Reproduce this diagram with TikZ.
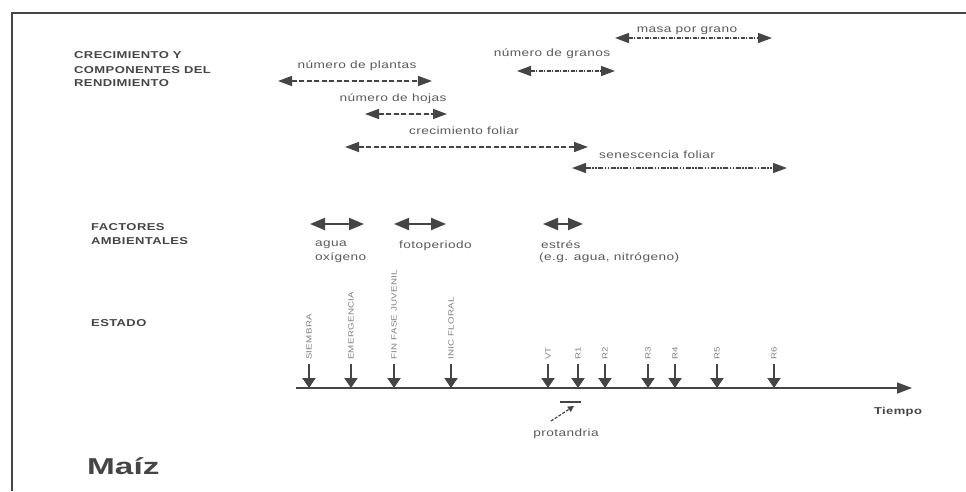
\documentclass[tikz,border=0pt]{standalone}
\usepackage{fontspec}
\setmainfont{Liberation Sans}
\newfontfamily\scanfont[FakeStretch=1.3,LetterSpace=4]{Liberation Sans}
\newfontfamily\maizfont[FakeStretch=1.45]{Liberation Sans}
\usetikzlibrary{arrows.meta}
\definecolor{ink}{HTML}{454545}
\definecolor{softink}{HTML}{5A5A5A}
\definecolor{paleink}{HTML}{808080}

\begin{document}
\begin{tikzpicture}[x=1pt, y=-1pt,
  every node/.style={font=\scanfont\fontsize{10.5}{12}\selectfont, text=softink, inner sep=1pt},
  heading/.style={font=\scanfont\bfseries\fontsize{10}{12}\selectfont, text=ink, anchor=west},
  span/.style={{Triangle[length=14pt,width=10pt]}-{Triangle[length=14pt,width=10pt]}, draw=ink, fill=ink, line width=1.4pt, dash pattern=on 5pt off 2.5pt},
  dotspan/.style={span, dash pattern=on 4pt off 1.5pt on 1pt off 1.5pt},
  factor/.style={{Triangle[length=15pt,width=12pt]}-{Triangle[length=15pt,width=12pt]}, draw=ink, fill=ink, line width=2pt},
  stage/.style={rotate=90, anchor=west, font=\scanfont\fontsize{7.5}{8}\selectfont, text=paleink},
  stagearrow/.style={-{Triangle[length=10pt,width=13pt]}, draw=ink, fill=ink, line width=2pt}]
  \useasboundingbox (0,0) rectangle (966,491);

  % frame of the page
  \coordinate (frameTL) at (12,12.7);
  \draw[ink, line width=1.6pt] (966,12.7) -- (frameTL) -- (12,491);

  % crecimiento y componentes del rendimiento
  \node[heading] (crec) at (73,55) {CRECIMIENTO Y};
  \node[heading] (comp) at (73,70) {COMPONENTES DEL};
  \node[heading] (rend) at (73,83) {RENDIMIENTO};

  \node (masa) at (687,31) {masa por grano};
  \coordinate (masaL) at (615,38); \coordinate (masaR) at (772,38);
  \draw[dotspan] (masaL) -- (masaR);

  \node (granos) at (552,54) {número de granos};
  \coordinate (granosL) at (517,71); \coordinate (granosR) at (615,71);
  \draw[dotspan] (granosL) -- (granosR);

  \node (plantas) at (357,66) {número de plantas};
  \coordinate (plantasL) at (278,81); \coordinate (plantasR) at (432,81);
  \draw[span] (plantasL) -- (plantasR);

  \node (hojas) at (393,99) {número de hojas};
  \coordinate (hojasL) at (365,114); \coordinate (hojasR) at (447,114);
  \draw[span] (hojasL) -- (hojasR);

  \node (crecfol) at (464,131) {crecimiento foliar};
  \coordinate (crecfolL) at (345,147); \coordinate (crecfolR) at (588,147);
  \draw[span] (crecfolL) -- (crecfolR);

  \node (senes) at (657,155) {senescencia foliar};
  \coordinate (senesL) at (572,168); \coordinate (senesR) at (787,168);
  \draw[span, dash pattern=on 5pt off 1.5pt on 1.5pt off 1.5pt on 1.5pt off 1.5pt] (senesL) -- (senesR);

  % factores ambientales
  \node[heading] (fact) at (90,227) {FACTORES};
  \node[heading] (amb) at (90,241) {AMBIENTALES};
  \coordinate (aguaL) at (310,224); \coordinate (aguaR) at (364,224);
  \draw[factor] (aguaL) -- (aguaR);
  \node[anchor=west] (agua) at (314,245) {agua};
  \node[anchor=west] (oxigeno) at (314,258) {oxígeno};
  \coordinate (fotoL) at (394,224); \coordinate (fotoR) at (446,224);
  \draw[factor] (fotoL) -- (fotoR);
  \node[anchor=west] (foto) at (398,246) {fotoperiodo};
  \coordinate (estresL) at (543,224); \coordinate (estresR) at (583,224);
  \draw[factor] (estresL) -- (estresR);
  \node[anchor=west] (estres) at (540,245) {estrés};
  \node[anchor=west] (ejemplo) at (538,258) {(e.g. agua, nitrógeno)};

  % estado y eje de tiempo
  \node[heading] (estado) at (90,323) {ESTADO};
  \coordinate (axA) at (296,388); \coordinate (axB) at (912,388);
  \draw[-{Triangle[length=15pt,width=11pt]}, draw=ink, fill=ink, line width=1.4pt] (axA) -- (axB);
  \node[font=\scanfont\bfseries\fontsize{10}{12}\selectfont, text=ink] (tiempo) at (898,412) {Tiempo};

  \node[stage] (siembra) at (309,361) {SIEMBRA};
  \draw[stagearrow] ([yshift=-3pt]siembra.west) -- (siembra.west |- axA);
  \node[stage] (emerg) at (351,361) {EMERGENCIA};
  \draw[stagearrow] ([yshift=-3pt]emerg.west) -- (emerg.west |- axA);
  \node[stage] (juvenil) at (394,361) {FIN FASE JUVENIL};
  \draw[stagearrow] ([yshift=-3pt]juvenil.west) -- (juvenil.west |- axA);
  \node[stage] (floral) at (451,361) {INIC FLORAL};
  \draw[stagearrow] ([yshift=-3pt]floral.west) -- (floral.west |- axA);
  \node[stage] (vt) at (548,361) {VT};
  \draw[stagearrow] ([yshift=-3pt]vt.west) -- (vt.west |- axA);
  \node[stage] (rone) at (578,361) {R1};
  \draw[stagearrow] ([yshift=-3pt]rone.west) -- (rone.west |- axA);
  \node[stage] (rtwo) at (605,361) {R2};
  \draw[stagearrow] ([yshift=-3pt]rtwo.west) -- (rtwo.west |- axA);
  \node[stage] (rthree) at (648,361) {R3};
  \draw[stagearrow] ([yshift=-3pt]rthree.west) -- (rthree.west |- axA);
  \node[stage] (rfour) at (675,361) {R4};
  \draw[stagearrow] ([yshift=-3pt]rfour.west) -- (rfour.west |- axA);
  \node[stage] (rfive) at (717,361) {R5};
  \draw[stagearrow] ([yshift=-3pt]rfive.west) -- (rfive.west |- axA);
  \node[stage] (rsix) at (774,361) {R6};
  \draw[stagearrow] ([yshift=-3pt]rsix.west) -- (rsix.west |- axA);

  % protandria
  \node (protandria) at (566,434) {protandria};
  \coordinate (protTail) at (551,421); \coordinate (protTip) at (574,406);
  \draw[ink, line width=1.2pt, dash pattern=on 3pt off 1.5pt, -{Triangle[length=6pt,width=6pt]}] (protTail) -- (protTip);
  \draw[ink, line width=1.2pt] (560,402) -- (581,402);

  % titulo
  \node[font=\maizfont\bfseries\fontsize{23}{26}\selectfont, text=ink, anchor=west, inner sep=0pt] (maiz) at (87,466) {Maíz};
\end{tikzpicture}
\end{document}
